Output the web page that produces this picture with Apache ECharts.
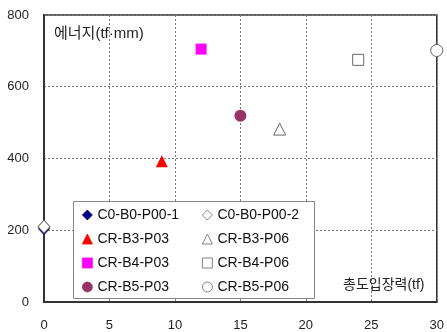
<!DOCTYPE html>
<html><head><meta charset="utf-8">
<script src="https://cdn.jsdelivr.net/npm/echarts@6/dist/echarts.min.js"></script>
<style>html,body{margin:0;padding:0;background:#fff;}#c{width:447px;height:332px;}</style>
</head><body><div id="c"></div>
<script>
const xTicks = [0, 5, 10, 15, 20, 25, 30];
const yTicks = [0, 200, 400, 600, 800];
const seriesNames = ['C0-B0-P00-1','C0-B0-P00-2','CR-B3-P03','CR-B3-P06','CR-B4-P03','CR-B4-P06','CR-B5-P03','CR-B5-P06'];
const tension = [0, 0, 9, 18, 12, 24, 15, 30];
const energy = [204, 210, 392, 482, 705, 675, 519, 701];
const symbols = ['diamond','diamond','triangle','triangle','rect','rect','circle','circle'];
const fills = ['#000080','#ffffff','#ff0000','#ffffff','#ff00ff','#ffffff','#993366','#ffffff'];
const borders = ['#000080','#666666','#ff0000','#666666','#ff00ff','#666666','#993366','#666666'];
const sizes = [[12,13],[12,13],12,12,11,11,12,12];
const FONT = '"Liberation Sans", "Noto Sans CJK KR", sans-serif';

const series = seriesNames.map((n, i) => ({
  name: n, type: 'scatter', clip: false,
  symbol: symbols[i], symbolSize: sizes[i],
  data: [[tension[i], energy[i]]],
  itemStyle: { color: fills[i], borderColor: borders[i], borderWidth: fills[i] === '#ffffff' ? 1 : 0, opacity: 1 }
}));

const legendCommon = {
  orient: 'vertical', itemWidth: 10, itemHeight: 10, itemGap: 10, padding: 0,
  itemStyle: { borderWidth: 0.8 },
  textStyle: { fontFamily: FONT, fontSize: 14, color: '#111', lineHeight: 14 },
  selectedMode: false, z: 5
};

const chart = echarts.init(document.getElementById('c'), null, { renderer: 'canvas' });
chart.setOption({
  animation: false,
  backgroundColor: '#fff',
  grid: { left: 44, right: 7, top: 15, bottom: 29, show: true, borderColor: '#333', borderWidth: 1.5, backgroundColor: 'transparent' },
  xAxis: {
    type: 'value', min: xTicks[0], max: xTicks[xTicks.length-1], interval: 5,
    axisLine: { show: true, lineStyle: { color: '#333', width: 2 } },
    axisTick: { show: false },
    axisLabel: { margin: 17, fontFamily: FONT, fontSize: 13, color: '#222' },
    splitLine: { show: true, lineStyle: { color: '#777', type: [2, 2], width: 1 } }
  },
  yAxis: {
    type: 'value', min: yTicks[0], max: yTicks[yTicks.length-1], interval: 200,
    axisLine: { show: true, lineStyle: { color: '#333', width: 2 } },
    axisTick: { show: false },
    axisLabel: { margin: 15, fontFamily: FONT, fontSize: 13, color: '#222' },
    splitLine: { show: true, lineStyle: { color: '#777', type: [2, 2], width: 1 } }
  },
  legend: [
    Object.assign({ left: 82, top: 208, data: seriesNames.filter((_, i) => i % 2 === 0) }, legendCommon),
    Object.assign({ left: 202, top: 208, data: seriesNames.filter((_, i) => i % 2 === 1) }, legendCommon)
  ],
  graphic: [
    { type: 'rect', z: 3, shape: { x: 73.5, y: 201.5, width: 241, height: 97 }, style: { fill: '#fff', stroke: '#888', lineWidth: 1 } },
    { type: 'text', z: 3, left: 54, top: 26, style: { text: '에너지(tf·mm)', font: '15px ' + FONT, fill: '#222' } },
    { type: 'text', z: 3, left: 343, top: 278, style: { text: '총도입장력(tf)', font: '14px ' + FONT, fill: '#222' } }
  ],
  series: series
});
</script></body></html>
